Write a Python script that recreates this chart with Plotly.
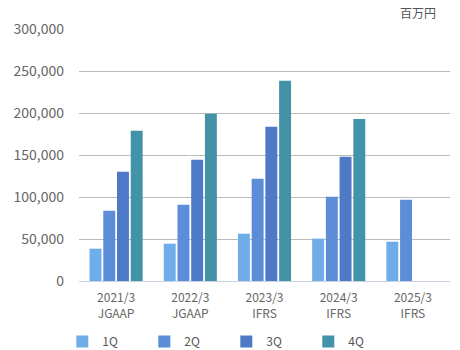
import plotly.graph_objects as go

categories = ["2021/3<br>JGAAP", "2022/3<br>JGAAP", "2023/3<br>IFRS", "2024/3<br>IFRS", "2025/3<br>IFRS"]
q1 = [38500, 44400, 56300, 50400, 46800]
q2 = [83700, 90800, 121800, 100400, 96800]
q3 = [130000, 144400, 183700, 148000, None]
q4 = [179000, 199000, 238500, 193000, None]
series_names = ["1Q", "2Q", "3Q", "4Q"]
colors = ["#6FADE8", "#5B8DD9", "#4E79C7", "#4292A8"]

fig = go.Figure()
for name, vals, c in zip(series_names, [q1, q2, q3, q4], colors):
    fig.add_trace(go.Bar(x=categories, y=vals, name=name, marker_color=c, marker_line_width=0))

font_family = "Noto Sans CJK JP, Noto Sans, sans-serif"
fig.update_layout(
    width=460, height=350,
    margin=dict(l=79, r=10, t=29, b=69, autoexpand=False),
    paper_bgcolor="white", plot_bgcolor="white",
    barmode="group", bargap=0.26, bargroupgap=0.13,
    font=dict(family=font_family, color="#666666", size=12),
    showlegend=True,
    legend=dict(orientation="h", x=-0.045, xanchor="left", y=-0.24, yanchor="middle",
                entrywidth=37, entrywidthmode="pixels",
                font=dict(size=12, color="#555555"), itemwidth=30),
    xaxis=dict(showgrid=False, tickfont=dict(size=12, color="#666666"),
               showline=True, linecolor="#c9d0e0", linewidth=1, ticks="",
               ticklabelstandoff=6),
    yaxis=dict(range=[0, 300000], dtick=50000, tickformat=",",
               gridcolor="#bbbbbb", gridwidth=1, zeroline=False,
               tickfont=dict(size=14, color="#666666"), ticks="", ticklabelstandoff=14),
    annotations=[dict(text="百万円", x=1, xref="paper", xanchor="right", y=1, yref="paper",
                      yanchor="bottom", yshift=6, xshift=-12,
                      showarrow=False, font=dict(size=12, color="#555555"))],
)
fig.write_html("out.html")
